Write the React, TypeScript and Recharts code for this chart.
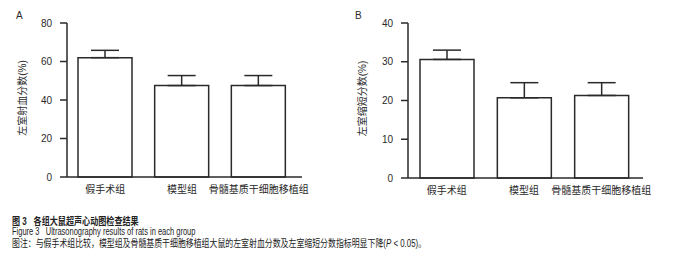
import { BarChart, Bar, XAxis, YAxis, ErrorBar, Label } from 'recharts';

const groups = ['假手术组', '模型组', '骨髓基质干细胞移植组'];
const efValues = [62, 47.5, 47.5];
const efErrors = [3.8, 5.2, 5.2];
const fsValues = [30.6, 20.7, 21.3];
const fsErrors = [2.4, 3.9, 3.3];
const efTicks = [0, 20, 40, 60, 80];
const fsTicks = [0, 10, 20, 30, 40];

const font = '"Liberation Sans", Arial, "Noto Sans CJK SC", sans-serif';
const cjk = '"Liberation Sans", "Noto Sans CJK SC", sans-serif';
const ink = '#2a2a2a';

interface PanelProps {
  letter: string;
  yLabel: string;
  values: number[];
  errors: number[];
  ticks: number[];
  left: number;
  axisWidth: number;
  marginTop: number;
  marginRight: number;
  marginBottom: number;
  padRight: number;
}

function Panel({ letter, yLabel, values, errors, ticks, left, axisWidth, marginTop, marginRight, marginBottom, padRight }: PanelProps) {
  const data = groups.map((name, i) => ({ name, value: values[i], err: [0, errors[i]] }));
  return (
    <div style={{ position: 'absolute', left, top: 0, width: 340, height: 200 }}>
      <div style={{ position: 'absolute', left: letter === 'A' ? 16 : 15, top: 10, fontFamily: font, fontSize: 10, color: ink }}>
        {letter}
      </div>
      <BarChart
        width={340}
        height={200}
        data={data}
        margin={{ top: marginTop, right: marginRight, bottom: marginBottom, left: 0 }}
      >
        <XAxis
          dataKey="name"
          height={20}
          interval={0}
          tickLine={false}
          tickSize={0}
          tickMargin={9}
          padding={{ left: 0, right: padRight }}
          axisLine={{ stroke: ink, strokeWidth: 1.5 }}
          tick={{ fontSize: 10, fill: ink, fontFamily: cjk }}
        />
        <YAxis
          width={axisWidth}
          domain={[0, ticks[ticks.length - 1]]}
          ticks={ticks}
          tickSize={7}
          tickMargin={8}
          axisLine={{ stroke: ink, strokeWidth: 1.5 }}
          tickLine={{ stroke: ink, strokeWidth: 1.5 }}
          tick={{ fontSize: 10, fill: ink, fontFamily: font }}
        >
          <Label
            content={({ viewBox }: any) => {
              const cx = viewBox.x + 22;
              const cy = viewBox.y + viewBox.height / 2 - 2;
              return (
                <text
                  x={cx}
                  y={cy}
                  transform={`rotate(-90, ${cx}, ${cy})`}
                  textAnchor="middle"
                  dominantBaseline="central"
                  fontSize={10}
                  fill={ink}
                  fontFamily={cjk}
                >
                  {yLabel}
                </text>
              );
            }}
          />
        </YAxis>
        <Bar dataKey="value" fill="#fff" stroke={ink} strokeWidth={1.5} barSize={54} isAnimationActive={false}>
          <ErrorBar dataKey="err" direction="y" width={14} stroke={ink} strokeWidth={1.5} />
        </Bar>
      </BarChart>
    </div>
  );
}

const captionLine = {
  position: 'absolute' as const,
  left: 12,
  color: '#222',
  whiteSpace: 'pre' as const,
  lineHeight: '10px',
  transformOrigin: 'left',
};

export default function App() {
  return (
    <div style={{ position: 'absolute', left: 0, top: 0, width: 681, height: 273, background: '#fff', overflow: 'hidden' }}>
      <Panel
        letter="A"
        yLabel="左室射血分数(%)"
        values={efValues}
        errors={efErrors}
        ticks={efTicks}
        left={0}
        axisWidth={67}
        marginTop={23}
        marginRight={38}
        marginBottom={3}
        padRight={5}
      />
      <Panel
        letter="B"
        yLabel="左室缩短分数(%)"
        values={fsValues}
        errors={fsErrors}
        ticks={fsTicks}
        left={340}
        axisWidth={68}
        marginTop={23}
        marginRight={37}
        marginBottom={2}
        padRight={3}
      />
      <div style={{ ...captionLine, top: 216, fontFamily: cjk, fontSize: 10.5, fontWeight: 700, transform: 'scaleX(0.77)' }}>
        {'图 3   各组大鼠超声心动图检查结果'}
      </div>
      <div style={{ ...captionLine, top: 227, fontFamily: font, fontSize: 10, transform: 'scaleX(0.75)' }}>
        {'Figure 3   Ultrasonography results of rats in each group'}
      </div>
      <div style={{ ...captionLine, top: 239, fontFamily: cjk, fontSize: 10, transform: 'scaleX(0.79)' }}>
        {'图注：与假手术组比较，模型组及骨髓基质干细胞移植组大鼠的左室射血分数及左室缩短分数指标明显下降('}
        <i>P</i>
        {' < 0.05)。'}
      </div>
    </div>
  );
}
